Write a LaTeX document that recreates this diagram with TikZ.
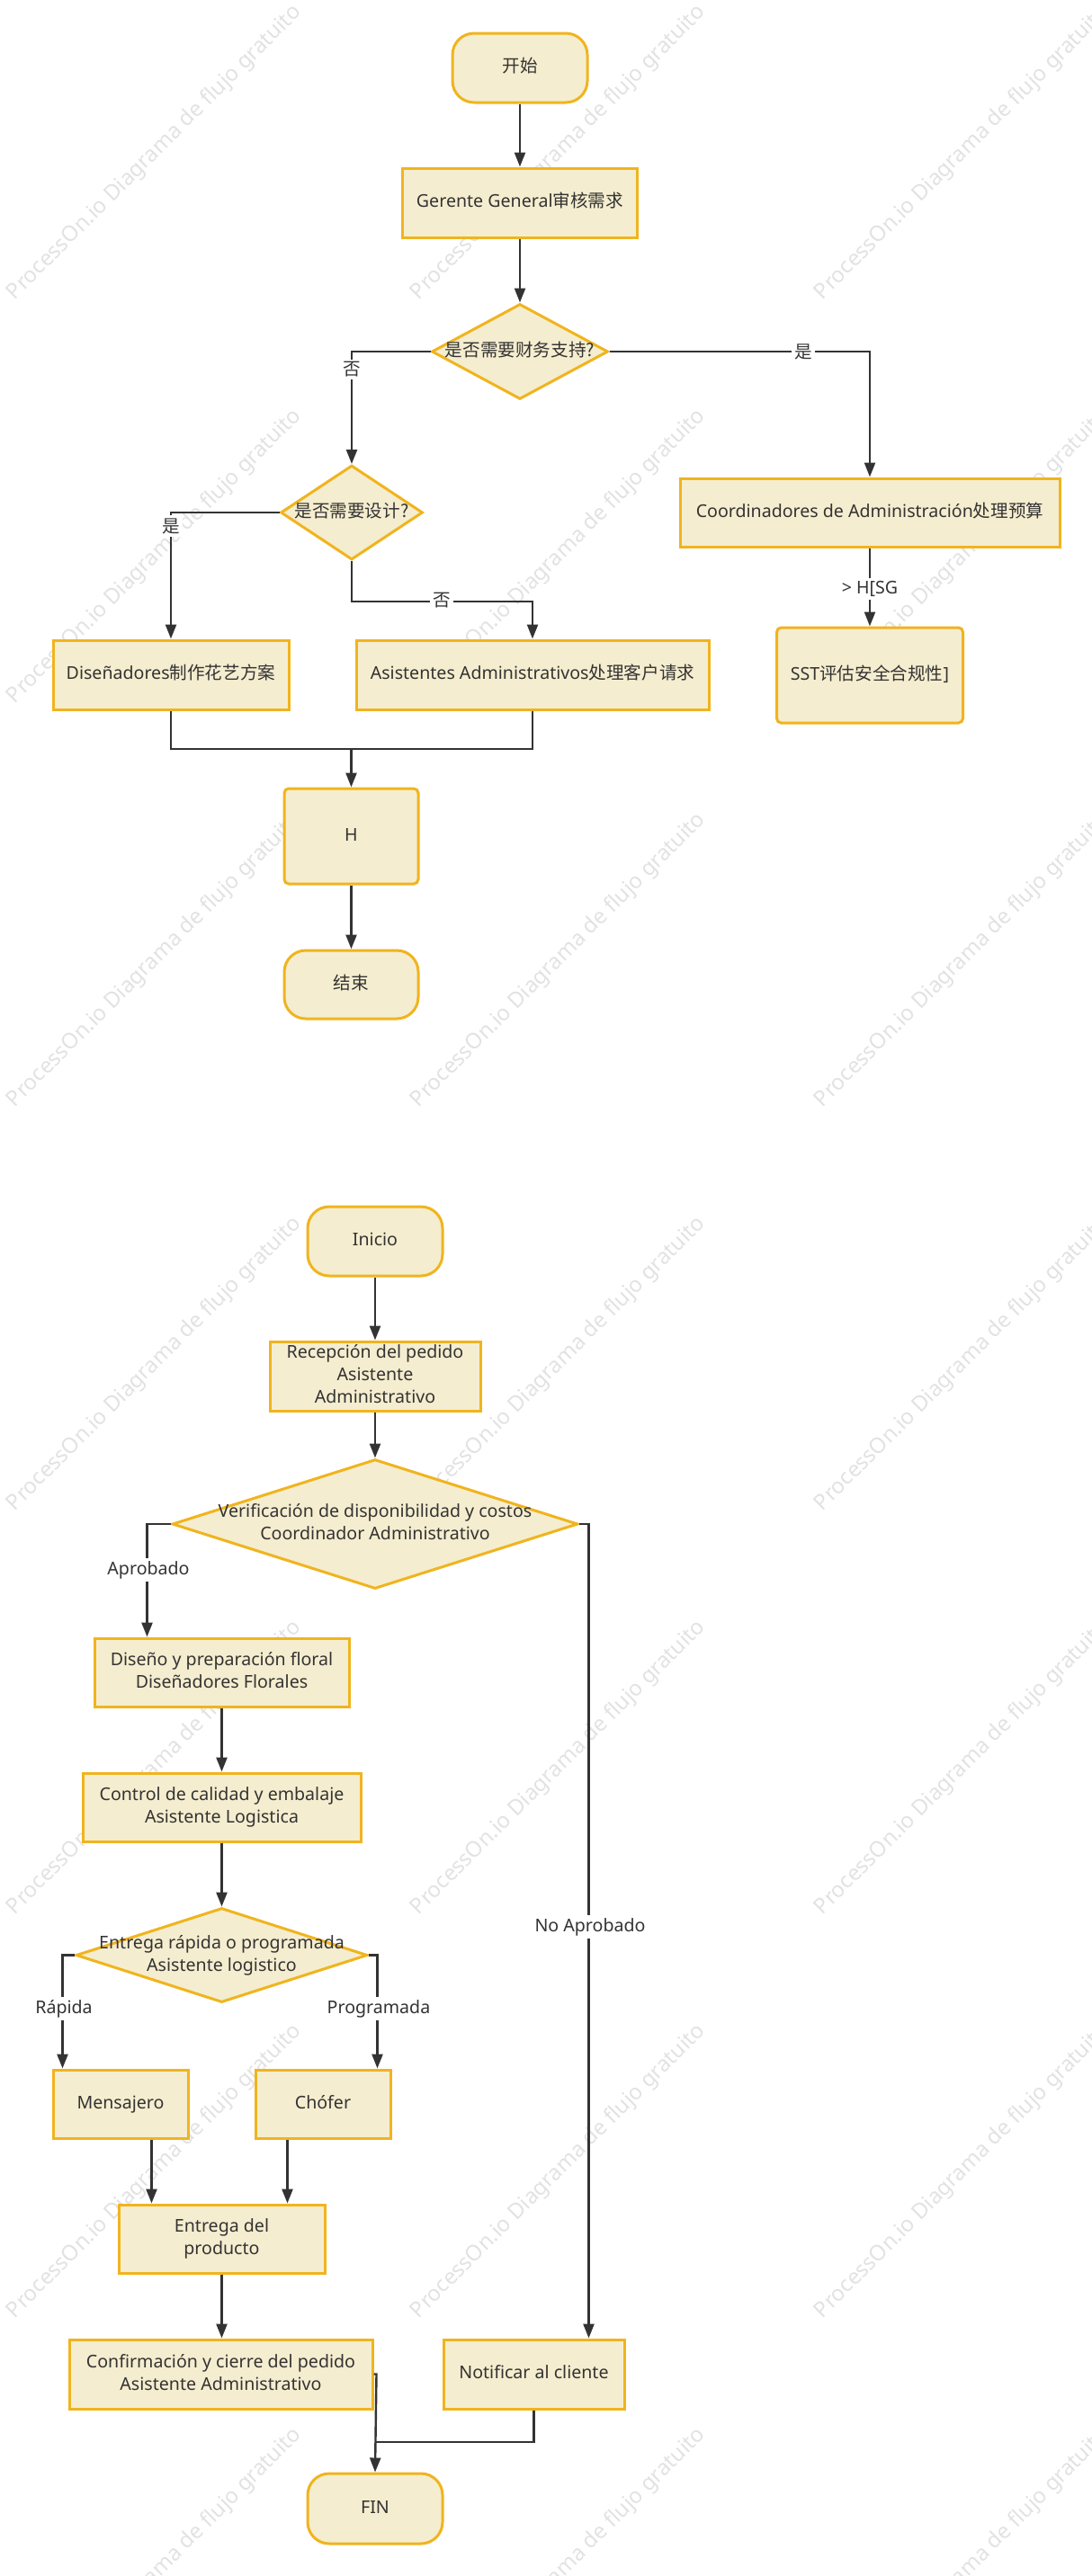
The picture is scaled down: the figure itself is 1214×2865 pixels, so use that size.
\documentclass[tikz,border=0pt]{standalone}
\usepackage{fontspec}
\setmainfont{Noto Sans}
\newfontfamily\cjk{Noto Sans CJK SC}
\usetikzlibrary{shapes.geometric,arrows.meta,calc}
\definecolor{fillc}{HTML}{F5EDCF}
\definecolor{bordc}{HTML}{F0B41E}
\definecolor{txtc}{HTML}{333333}
\definecolor{wmc}{HTML}{E2E2E2}
\newcommand\mytxt[1]{\makebox[0pt]{\begin{tabular}{@{}c@{}}#1\end{tabular}}}
\begin{document}
\begin{tikzpicture}[x=0.5pt,y=-0.5pt,
 base/.style={draw=bordc,fill=fillc,line width=1.5pt,text=txtc,font=\fontsize{9.8pt}{12.5pt}\selectfont,inner sep=0pt},
 proc/.style={base,rectangle},
 term/.style={base,rectangle,rounded corners=12pt},
 soft/.style={base,rectangle,rounded corners=2.5pt},
 dec/.style={base,diamond},
 conn/.style={draw=txtc,line width=1.2pt},
 arr/.style={conn,-{Triangle[length=8pt,width=6pt]}},
 lab/.style={fill=white,text=txtc,font=\fontsize{9.8pt}{12.5pt}\selectfont,inner sep=1.5pt},
 wm/.style={text=wmc,font=\fontsize{12pt}{14pt}\selectfont,rotate=45,inner sep=0pt}
]
\useasboundingbox (0,0) rectangle (1214,2865);
\begin{scope}
\clip (0,0) rectangle (1214,2865);
\foreach \k in {0,1,2}{\foreach \m in {0,...,6}{
 \node[wm] (wm\k\m) at ({449*\k+172},{449*\m+170}) {ProcessOn.io Diagrama de flujo gratuito};}}
\end{scope}

% ---------- top diagram ----------
\node[term,minimum width=75pt,minimum height=38.5pt] (start) at (578,75.5) {\mytxt{\cjk 开始}};
\node[proc,minimum width=130.5pt,minimum height=38.5pt] (gen) at (578,225.5) {\mytxt{Gerente General{\cjk 审核需求}}};
\node[dec,minimum width=98pt,minimum height=53pt] (d1) at (578,391) {\mytxt{\cjk 是否需要财务支持?}};
\node[dec,minimum width=79pt,minimum height=52.5pt] (d2) at (391,570) {\mytxt{\cjk 是否需要设计?}};
\node[proc,minimum width=211pt,minimum height=38pt] (coord) at (967,570) {\mytxt{Coordinadores de Administración{\cjk 处理预算}}};
\node[proc,minimum width=131pt,minimum height=38.5pt] (dis) at (190,750.5) {\mytxt{Diseñadores{\cjk 制作花艺方案}}};
\node[proc,minimum width=196pt,minimum height=38.5pt] (asis) at (592,750.5) {\mytxt{Asistentes Administrativos{\cjk 处理客户请求}}};
\node[soft,minimum width=103.5pt,minimum height=53pt] (sst) at (967,751) {\mytxt{SST{\cjk 评估安全合规性}]}};
\node[soft,minimum width=74.5pt,minimum height=53pt] (hbox) at (390.5,930) {\mytxt{H}};
\node[term,minimum width=74.5pt,minimum height=38pt] (endn) at (390.5,1095) {\mytxt{\cjk 结束}};

\draw[arr] (start) -- (gen);
\draw[arr] (gen) -- (d1);
\draw[arr] (d1.west) -| (d2.north);
\draw[arr] (d1.east) -| (coord.north);
\draw[arr] (d2.west) -| (dis.north);
\draw[arr] (d2.south) -- ++(0,45) -| (asis.north);
\draw[arr] (coord.south) -- (coord.south |- sst.north);
\coordinate (j1) at (390.5,833);
\draw[conn] (dis.south) |- (j1);
\draw[conn] (asis.south) |- (j1);
\draw[arr] (j1) -- (hbox.north);
\draw[arr] (hbox) -- (endn);

\node[lab] (l1) at (391,411) {\cjk 否};
\node[lab] (l2) at (893,391) {\cjk 是};
\node[lab] (l3) at (190,585) {\cjk 是};
\node[lab] (l4) at (491,668) {\cjk 否};
\node[lab] (l5) at (967,655) {> H[SG};

% ---------- bottom diagram ----------
\node[term,minimum width=75pt,minimum height=38.5pt] (ini) at (417,1380.5) {\mytxt{Inicio}};
\node[proc,minimum width=117pt,minimum height=38.5pt] (rec) at (417,1530.5) {\mytxt{Recepción del pedido\\Asistente\\Administrativo}};
\node[dec,minimum width=225.5pt,minimum height=72pt] (d3) at (417,1695) {\mytxt{Verificación de disponibilidad y costos\\Coordinador Administrativo}};
\node[proc,minimum width=141.5pt,minimum height=38pt] (dsn) at (246.5,1860) {\mytxt{Diseño y preparación floral\\Diseñadores Florales}};
\node[proc,minimum width=154.5pt,minimum height=38pt] (ctl) at (246.5,2010) {\mytxt{Control de calidad y embalaje\\Asistente Logistica}};
\node[dec,minimum width=162pt,minimum height=52.5pt] (d4) at (246.5,2174.5) {\mytxt{Entrega rápida o programada\\Asistente logistico}};
\node[proc,minimum width=75pt,minimum height=38pt] (men) at (134,2340) {\mytxt{Mensajero}};
\node[proc,minimum width=75pt,minimum height=38pt] (cho) at (359,2340) {\mytxt{Chófer}};
\node[proc,minimum width=114.5pt,minimum height=38pt] (ent) at (246.5,2490) {\mytxt{Entrega del\\producto}};
\node[proc,minimum width=168.5pt,minimum height=38.5pt] (cnf) at (245.5,2640.5) {\mytxt{Confirmación y cierre del pedido\\Asistente Administrativo}};
\node[proc,minimum width=100.5pt,minimum height=38.5pt] (ntf) at (593.5,2640.5) {\mytxt{Notificar al cliente}};
\node[term,minimum width=75pt,minimum height=39pt] (fin) at (417,2790) {\mytxt{FIN}};

\draw[arr] (ini) -- (rec);
\draw[arr] (rec) -- (d3);
\draw[arr] (d3.west) -| ([xshift=30pt]dsn.north west);
\draw[arr] (d3.east) -| ([xshift=81.5pt]ntf.north west);
\draw[arr] (dsn.south) -- (dsn.south |- ctl.north);
\draw[arr] (ctl.south) -- (ctl.south |- d4.north);
\draw[arr] (d4.west) -| ([xshift=6pt]men.north west);
\draw[arr] (d4.east) -| ([xshift=68.5pt]cho.north west);
\draw[arr] ([xshift=55.5pt]men.south west) -- ([xshift=55.5pt]men.south west |- ent.north);
\draw[arr] ([xshift=18.5pt]cho.south west) -- ([xshift=18.5pt]cho.south west |- ent.north);
\draw[arr] (ent.south) -- (ent.south |- cnf.north);
\draw[arr] (cnf.east) -- ++(3,0) -- (fin.north);
\coordinate (j2) at (417,2716);
\draw[conn] (ntf.south) |- (j2);

\node[lab] (l6) at (165,1746) {Aprobado};
\node[lab] (l7) at (656,2143) {No Aprobado};
\node[lab] (l8) at (71,2234) {Rápida};
\node[lab] (l9) at (421,2234) {Programada};
\end{tikzpicture}
\end{document}
